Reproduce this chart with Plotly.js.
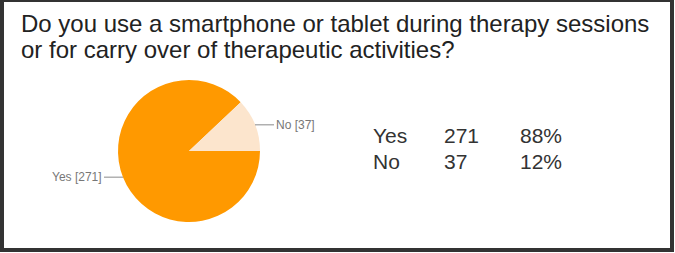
<!DOCTYPE html>
<html>
<head>
<meta charset="utf-8">
<script src="https://cdn.plot.ly/plotly-3.0.1.min.js"></script>
<style>
  html, body { margin: 0; padding: 0; background: #fff; }
  #chart { width: 675px; height: 253px; }
</style>
</head>
<body>
<div id="chart"></div>
<script>
// Survey answers
const answers = ['Yes', 'No'];
const counts = [271, 37];
const sliceColors = ['#ff9900', '#fce5cd'];
const questionLines = [
  'Do you use a smartphone or tablet during therapy sessions',
  'or for carry over of therapeutic activities?'
];

const W = 675, H = 253;
const FONT = 'Liberation Sans, Arial, Helvetica, sans-serif';

// Pie placement (pixels)
const pieCx = 189, pieCy = 151, pieR = 71;
const dom = {
  x: [(pieCx - pieR) / W, (pieCx + pieR) / W],
  y: [(H - pieCy - pieR) / H, (H - pieCy + pieR) / H]
};

const total = counts.reduce((a, b) => a + b, 0);

const pie = {
  type: 'pie',
  labels: answers,
  values: counts,
  sort: false,
  direction: 'clockwise',
  rotation: 90,
  textinfo: 'none',
  hoverinfo: 'label+value+percent',
  marker: { colors: sliceColors, line: { width: 0 } },
  domain: dom,
  showlegend: false
};

const annotations = [];

// Question heading, one annotation per line
const titleY = [23, 50];
questionLines.forEach((t, i) => {
  annotations.push({
    xref: 'paper', yref: 'paper',
    x: 19 / W, y: 1 - titleY[i] / H,
    text: t, showarrow: false,
    xanchor: 'left', yanchor: 'middle',
    font: { family: FONT, size: 24, color: '#222' }
  });
});

// Slice labels with short leader lines, placed at each slice's mid angle
let cum = 0;
answers.forEach((a, i) => {
  const mid = -((cum + counts[i] / 2) / total) * 2 * Math.PI;
  cum += counts[i];
  const c = Math.cos(mid), s = Math.sin(mid);
  const right = c > 0;
  annotations.push({
    xref: 'paper', yref: 'paper',
    x: (pieCx + pieR * c) / W,
    y: (H - pieCy + pieR * s) / H,
    text: a + ' [' + counts[i] + ']',
    showarrow: true, arrowhead: 0, arrowwidth: 1, arrowcolor: '#8a8a8a',
    ax: right ? 19 : -19, ay: 0,
    xanchor: right ? 'left' : 'right',
    yanchor: 'middle',
    font: { family: FONT, size: 12, color: '#777' }
  });
});

// Summary table: answer, count, percent
const rowY = [135, 161];
const colX = { label: 371, count: 442, pct: 564 };
answers.forEach((a, i) => {
  const pct = Math.round(counts[i] / total * 100) + '%';
  const y = 1 - rowY[i] / H;
  const f = { family: FONT, size: 21, color: '#333' };
  annotations.push({ xref: 'paper', yref: 'paper', x: colX.label / W, y, text: a, showarrow: false, xanchor: 'left', yanchor: 'middle', font: f });
  annotations.push({ xref: 'paper', yref: 'paper', x: colX.count / W, y, text: String(counts[i]), showarrow: false, xanchor: 'left', yanchor: 'middle', font: f });
  annotations.push({ xref: 'paper', yref: 'paper', x: colX.pct / W, y, text: pct, showarrow: false, xanchor: 'right', yanchor: 'middle', font: f });
});

const layout = {
  width: W, height: H,
  margin: { l: 0, r: 0, t: 0, b: 0 },
  paper_bgcolor: '#fff',
  annotations,
  shapes: [{
    type: 'rect', xref: 'paper', yref: 'paper',
    x0: 2 / W, x1: 672 / W, y0: 3 / H, y1: 1,
    line: { color: '#333', width: 4 }
  }]
};

Plotly.newPlot('chart', [pie], layout, { displayModeBar: false, staticPlot: true });
</script>
</body>
</html>
